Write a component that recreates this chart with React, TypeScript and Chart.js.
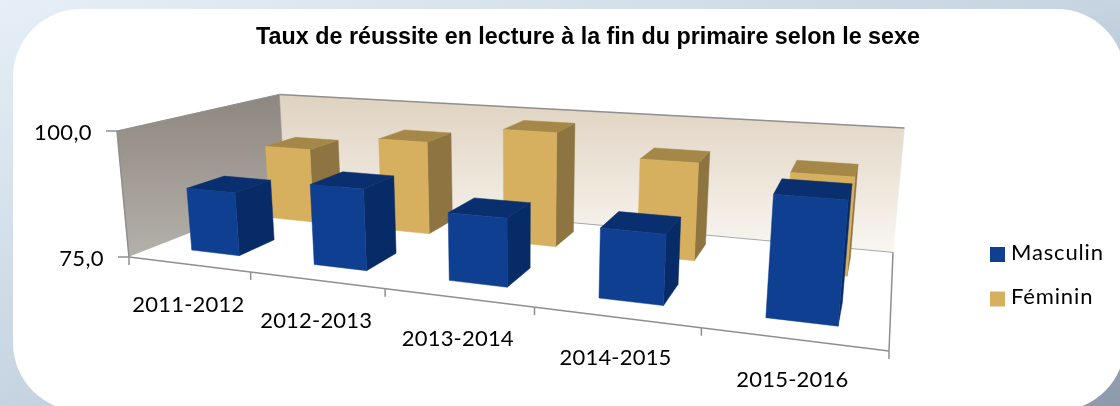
import React, { useEffect, useRef } from "react";
import { Chart, registerables } from "chart.js";

Chart.register(...registerables);

const categories = ["2011-2012", "2012-2013", "2013-2014", "2014-2015", "2015-2016"];
const masculin = [87.7, 90.7, 87.7, 87.5, 95.7];
const feminin = [91.3, 94.7, 98.4, 94.3, 93.7];
const chartTitle = "Taux de réussite en lecture à la fin du primaire selon le sexe";

const LABEL_FONT = '22px Lato, "Open Sans", sans-serif';

type Pt = [number, number];

// Perspective camera: floor corners + vertical column, fitted to the reference box
const F0: Pt = [129, 257];
const F1: Pt = [889, 351];
const B1: Pt = [893, 252.4];
const B0: Pt = [285, 196];
const ZW = -0.03;
const ZX = 117 * (1 + ZW) - F0[0];
const ZY = 131 * (1 + ZW) - F0[1];

const sx = F0[0] - F1[0] + B1[0] - B0[0];
const sy = F0[1] - F1[1] + B1[1] - B0[1];
const d1x = F1[0] - B1[0];
const d1y = F1[1] - B1[1];
const d2x = B0[0] - B1[0];
const d2y = B0[1] - B1[1];
const den = d1x * d2y - d1y * d2x;
const G = (sx * d2y - sy * d2x) / den;
const H = (d1x * sy - d1y * sx) / den;
const AX = F1[0] * (1 + G) - F0[0];
const BX = B0[0] * (1 + H) - F0[0];
const AY = F1[1] * (1 + G) - F0[1];
const BY = B0[1] * (1 + H) - F0[1];

function project(u: number, d: number, z: number): Pt {
  const w = 1 + G * u + H * d + ZW * z;
  return [(F0[0] + AX * u + BX * d + ZX * z) / w, (F0[1] + AY * u + BY * d + ZY * z) / w];
}

function quad(ctx: CanvasRenderingContext2D, pts: Pt[], fill: string | CanvasGradient) {
  ctx.beginPath();
  pts.forEach((p, i) => (i ? ctx.lineTo(p[0], p[1]) : ctx.moveTo(p[0], p[1])));
  ctx.closePath();
  ctx.fillStyle = fill;
  ctx.fill();
  ctx.strokeStyle = fill;
  ctx.lineWidth = 0.5;
  ctx.stroke();
}

function line(ctx: CanvasRenderingContext2D, a: Pt, b: Pt, color: string, width: number) {
  ctx.beginPath();
  ctx.moveTo(a[0], a[1]);
  ctx.lineTo(b[0], b[1]);
  ctx.strokeStyle = color;
  ctx.lineWidth = width;
  ctx.stroke();
}

const faces = [
  { front: "#0f3f91", side: "#072b66", top: "#0a2f6e" },
  { front: "#d7b05f", side: "#8d7440", top: "#a58848" },
];
const depths: Pt[] = [
  [0.15, 0.37],
  [0.65, 0.87],
];
const BAR_STRETCH = 1.005;

const backdrop = {
  id: "backdrop",
  beforeDraw(chart: any) {
    const { ctx, width, height } = chart;
    const g = ctx.createLinearGradient(0, 0, 260, 718);
    g.addColorStop(0, "#e6eff7");
    g.addColorStop(0.5, "#c6d4e1");
    g.addColorStop(1, "#8c99ab");
    ctx.save();
    ctx.fillStyle = g;
    ctx.fillRect(0, 0, width, height);
    ctx.beginPath();
    ctx.roundRect(13, 9, 1112, 402, 68);
    ctx.fillStyle = "#ffffff";
    ctx.fill();
    ctx.restore();
  },
};

const box3d = {
  id: "box3d",
  beforeDatasetsDraw(chart: any) {
    const { ctx, chartArea: a, scales } = chart;
    ctx.save();

    // walls and floor
    const wallTop = project(0, 1, 1);
    const wallBot = project(1, 1, 0);
    const bw = ctx.createLinearGradient(0, wallTop[1] + 5, 0, wallBot[1]);
    bw.addColorStop(0, "#e0d3c1");
    bw.addColorStop(1, "#f9f6f2");
    quad(ctx, [project(0, 1, 0), project(1, 1, 0), project(1, 1, 1), project(0, 1, 1)], bw);
    const lw = ctx.createLinearGradient(0, wallTop[1], 0, project(0, 0, 0)[1]);
    lw.addColorStop(0, "#8e877f");
    lw.addColorStop(1, "#b4b0aa");
    quad(ctx, [project(0, 0, 0), project(0, 1, 0), project(0, 1, 1), project(0, 0, 1)], lw);
    quad(ctx, [project(0, 0, 0), project(1, 0, 0), project(1, 1, 0), project(0, 1, 0)], "#ffffff");

    const grey = "#8f8f8f";
    line(ctx, project(0, 1, 1), project(1, 1, 1), grey, 1.5);
    line(ctx, project(0, 0, 1), project(0, 1, 1), grey, 1);
    line(ctx, project(0, 0, 0), project(0, 0, 1), grey, 1.5);
    line(ctx, project(0.0, 1, 0), project(1, 1, 0), "#a8a8a8", 1);
    line(ctx, project(1, 0, 0), project(1, 1, 0), grey, 1.5);
    line(ctx, project(0, 0, 0), project(1, 0, 0), grey, 1.5);

    // category axis ticks and labels
    ctx.font = LABEL_FONT;
    ctx.fillStyle = "#000000";
    ctx.textAlign = "center";
    ctx.textBaseline = "middle";
    ctx.letterSpacing = "0.2px";
    const n = chart.data.labels.length;
    for (let i = 0; i <= n; i++) {
      const p = project(i / n, 0, 0);
      line(ctx, p, [p[0], p[1] + 8], grey, 1.5);
    }
    chart.data.labels.forEach((label: string, i: number) => {
      const u = (scales.x.getPixelForValue(i) - a.left) / a.width;
      const p = project(u, 0, 0);
      ctx.fillStyle = "#000000";
      ctx.fillText(label, p[0], p[1] + 41);
    });

    // value axis ticks and labels
    ctx.textAlign = "right";
    ctx.letterSpacing = "0.4px";
    scales.y.ticks.forEach((t: any) => {
      const z = (a.bottom - scales.y.getPixelForValue(t.value)) / a.height;
      const p = project(0, 0, z);
      line(ctx, p, [p[0] - 11, p[1]], grey, 1.5);
      ctx.fillStyle = "#000000";
      ctx.fillText(t.label, p[0] - 25, p[1] + 2);
    });

    // bars: rear series first, taking each bar from its Chart.js element
    for (let ds = chart.data.datasets.length - 1; ds >= 0; ds--) {
      const meta = chart.getDatasetMeta(ds);
      const [d0, d1] = depths[ds];
      const c = faces[ds];
      meta.data.forEach((el: any) => {
        const u0 = ((el.x - el.width / 2 - a.left) / a.width) * BAR_STRETCH;
        const u1 = ((el.x + el.width / 2 - a.left) / a.width) * BAR_STRETCH;
        const z = (a.bottom - el.y) / a.height;
        quad(ctx, [project(u1, d0, 0), project(u1, d1, 0), project(u1, d1, z), project(u1, d0, z)], c.side);
        quad(ctx, [project(u0, d0, z), project(u1, d0, z), project(u1, d1, z), project(u0, d1, z)], c.top);
        quad(ctx, [project(u0, d0, 0), project(u1, d0, 0), project(u1, d0, z), project(u0, d0, z)], c.front);
      });
    }

    // legend
    ctx.textAlign = "left";
    ctx.letterSpacing = "0.85px";
    chart.data.datasets.forEach((set: any, i: number) => {
      const y = 254 + i * 44.5;
      ctx.fillStyle = set.backgroundColor;
      ctx.fillRect(990, y - 7, 15, 15);
      ctx.fillStyle = "#000000";
      ctx.fillText(set.label, 1011, y - 1.5);
    });
    ctx.letterSpacing = "0px";

    ctx.restore();
    return false;
  },
};

export default function App() {
  const ref = useRef<HTMLCanvasElement>(null);
  useEffect(() => {
    document.body.style.margin = "0";
    const chart = new Chart(ref.current!, {
      type: "bar",
      data: {
        labels: categories,
        datasets: [
          { label: "Masculin", data: masculin, backgroundColor: faces[0].front, grouped: false },
          { label: "Féminin", data: feminin, backgroundColor: faces[1].front, grouped: false },
        ],
      } as any,
      options: {
        responsive: false,
        animation: false,
        barPercentage: 0.4,
        categoryPercentage: 1,
        layout: { padding: { left: 56, top: 24 } },
        scales: {
          x: { display: false, ticks: { autoSkip: false } },
          y: {
            display: false,
            min: 75,
            max: 100,
            ticks: {
              stepSize: 25,
              callback: (v: any) => Number(v).toFixed(1).replace(".", ","),
            },
          },
        },
        plugins: {
          legend: { display: false },
          tooltip: { enabled: false },
          title: {
            display: true,
            text: chartTitle,
            color: "#000000",
            padding: 0,
            font: { family: '"Liberation Sans", Arial, sans-serif', size: 23.3, weight: "bold" },
          },
        },
      } as any,
      plugins: [backdrop, box3d],
    });
    return () => chart.destroy();
  }, []);
  return (
    <div style={{ width: 1120, height: 406 }}>
      <canvas ref={ref} width={1120} height={406} style={{ display: "block" }} />
    </div>
  );
}
